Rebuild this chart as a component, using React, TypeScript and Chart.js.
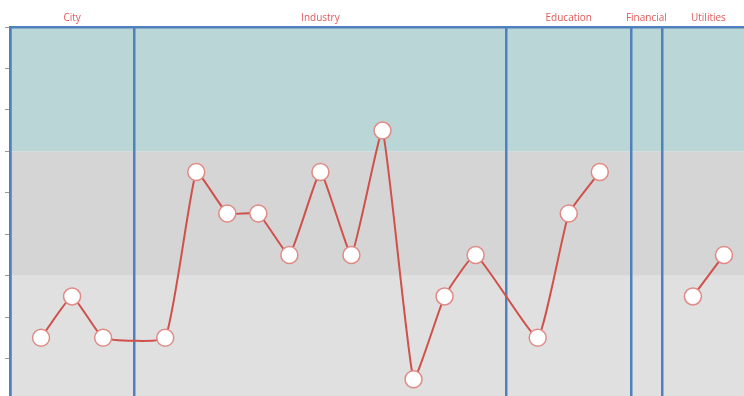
import React, { useEffect, useRef } from "react";
import { Chart, registerables } from "chart.js";

Chart.register(...registerables);

// Sector groups along the x axis and the ratings plotted in each group
const groups = ["City", "Industry", "Education", "Financial", "Utilities"];
const cityRatings = [2, 3, 2];
const industryRatings = [2, 6, 5, 5, 4, 6, 4, 7, 1, 3, 4];
const educationRatings = [2, 5, 6];
const financialRatings: number[] = [];
const utilitiesRatings = [3, 4];
const groupRatings = [cityRatings, industryRatings, educationRatings, financialRatings, utilitiesRatings];

// Rating rows (1..9) and the background bands covering them
const ratingTicks = [0.5, 1.5, 2.5, 3.5, 4.5, 5.5, 6.5, 7.5, 8.5, 9.5];
const bandFrom = [0.5, 3.5, 6.5];
const bandTo = [3.5, 6.5, 9.5];
const bandColors = ["#e0e0e0", "#d5d5d5", "#bbd6d7"];

const SEP_BLUE = "#4f81bd";
const LINE_RED = "#d0504b";

// Lay the groups out side by side: each group takes one slot per rating plus one gap slot
const boundaries: number[] = [-1];
const centers: number[] = [];
const points: { x: number; y: number | null }[] = [];
groupRatings.forEach((ratings) => {
  const start = boundaries[boundaries.length - 1];
  if (ratings.length === 0) {
    points.push({ x: start + 0.5, y: null });
  }
  ratings.forEach((r, k) => points.push({ x: start + k + 1, y: r }));
  const end = start + ratings.length + 1;
  centers.push((start + end) / 2);
  boundaries.push(end);
});
const xMin = boundaries[0];
const xMax = boundaries[boundaries.length - 1];

const bandsPlugin = {
  id: "ratingBands",
  beforeDraw(chart: any) {
    const { ctx, chartArea, scales } = chart;
    const y = scales.y;
    ctx.save();
    bandFrom.forEach((from, i) => {
      const top = y.getPixelForValue(bandTo[i]);
      const bottom = y.getPixelForValue(from);
      ctx.fillStyle = bandColors[i];
      ctx.fillRect(chartArea.left, top, chartArea.right - chartArea.left, bottom - top);
    });
    ctx.restore();
  },
};

export default function App() {
  const canvasRef = useRef<HTMLCanvasElement | null>(null);

  useEffect(() => {
    document.body.style.overflow = "hidden";
    Chart.defaults.font.family = "'Open Sans', 'DejaVu Sans', sans-serif";
    const chart = new Chart(canvasRef.current!, {
      type: "line",
      data: {
        datasets: [
          {
            data: points as any,
            borderColor: LINE_RED,
            borderWidth: 2,
            tension: 0.12,
            spanGaps: false,
            pointRadius: 8.5,
            pointBackgroundColor: "#ffffff",
            pointBorderColor: "#e08985",
            pointBorderWidth: 1.5,
          },
        ],
      },
      options: {
        animation: false,
        responsive: false,
        events: [],
        layout: { padding: { left: 5, top: 9, right: 15, bottom: 10 }, autoPadding: false },
        plugins: { legend: { display: false }, tooltip: { enabled: false }, title: { display: false } },
        scales: {
          x: {
            type: "linear",
            position: "bottom",
            min: xMin,
            max: xMax,
            afterBuildTicks: (scale: any) => {
              scale.ticks = boundaries.map((v) => ({ value: v }));
            },
            ticks: { display: false },
            grid: { color: SEP_BLUE, lineWidth: 2.5, drawTicks: false },
            border: { display: true, color: SEP_BLUE, width: 2.5 },
          },
          top: {
            type: "linear",
            position: "top",
            min: xMin,
            max: xMax,
            afterBuildTicks: (scale: any) => {
              scale.ticks = centers.map((v) => ({ value: v }));
            },
            ticks: {
              autoSkip: false,
              maxRotation: 0,
              padding: 3,
              color: "#e05a5a",
              font: { size: 10 },
              callback: (_v: any, i: number) => groups[i],
            },
            grid: { display: false, drawTicks: false },
            border: { display: true, color: SEP_BLUE, width: 2.5 },
          },
          y: {
            type: "linear",
            min: ratingTicks[0],
            max: ratingTicks[ratingTicks.length - 1],
            afterBuildTicks: (scale: any) => {
              scale.ticks = ratingTicks.map((v) => ({ value: v }));
            },
            ticks: { display: false },
            grid: { drawOnChartArea: false, drawTicks: true, tickLength: 5, color: "#9a9a9a", lineWidth: 1 },
            border: { display: true, color: SEP_BLUE, width: 2.5 },
          },
        },
      },
      plugins: [bandsPlugin],
    } as any);
    return () => chart.destroy();
  }, []);

  return (
    <div style={{ position: "fixed", left: 0, top: 0, width: 770, height: 410 }}>
      <canvas ref={canvasRef} width={770} height={410} />
    </div>
  );
}
